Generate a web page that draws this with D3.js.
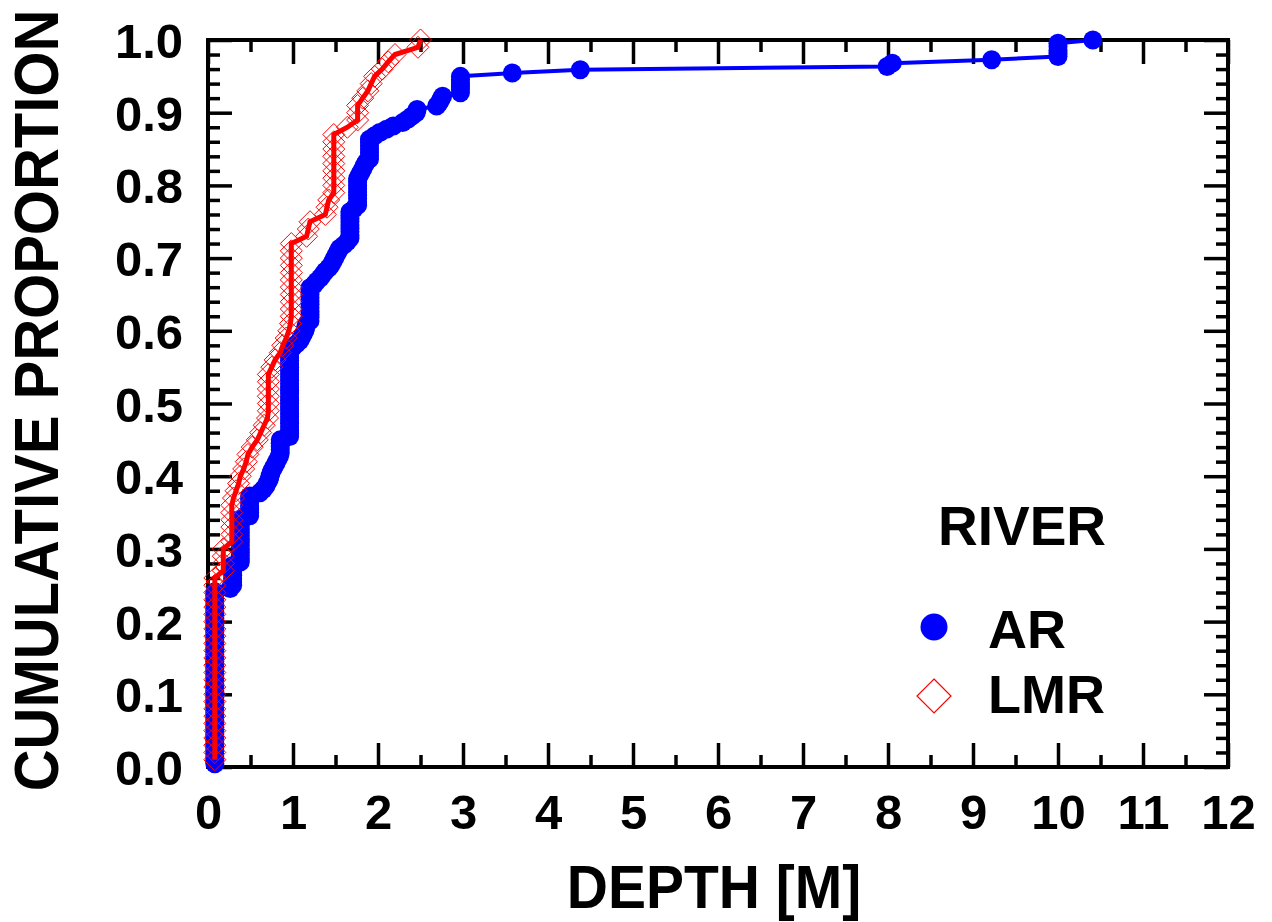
<!DOCTYPE html>
<html>
<head>
<meta charset="utf-8">
<script src="https://cdn.jsdelivr.net/npm/d3@7"></script>
<style>
  html, body { margin: 0; padding: 0; background: #ffffff; }
  svg { display: block; }
  text { font-family: "Liberation Sans", Arial, Helvetica, sans-serif; font-weight: bold; fill: #000; }
</style>
</head>
<body>
<svg id="chart" width="1272" height="922"></svg>
<script>
// ---- Data (depth observations in metres, with how many observations share each depth) ----
const arDepths = [0.08,0.26,0.29,0.38,0.49,0.61,0.65,0.68,0.70,0.72,0.73,0.74,0.76,0.78,0.80,0.82,0.84,0.85,0.96,
  1.00,1.04,1.08,1.10,1.12,1.14,1.15,1.16,1.20,1.25,1.28,1.32,1.35,1.38,1.42,1.45,1.47,1.49,1.51,1.53,1.55,1.60,1.64,
  1.67,1.72,1.76,1.78,1.80,1.82,1.84,1.86,1.90,1.96,2.02,2.10,2.18,2.29,2.35,2.40,2.45,2.46,2.69,2.72,2.74,2.76,2.97,
  3.58,4.38,7.99,8.05,9.22,10.00,10.41];
const arCounts = [53,1,7,14,7,1,1,1,1,1,1,1,1,1,1,1,1,5,27,
  1,1,1,1,1,1,1,1,11,1,1,1,1,1,1,1,1,1,1,1,1,1,1,
  9,1,9,1,1,1,1,1,7,1,1,1,1,1,1,1,1,1,1,1,1,1,6,
  1,1,1,1,1,5,1];

const lmrDepths = [0.08,0.18,0.28,0.30,0.33,0.36,0.38,0.42,0.45,0.47,0.52,0.58,0.62,0.66,0.70,0.71,0.75,0.79,0.85,0.88,
  0.92,0.95,0.97,0.98,1.16,1.18,1.20,1.38,1.40,1.42,1.48,1.64,1.76,1.82,1.88,1.92,1.96,2.05,2.12,2.20,2.47,2.50];
const lmrCounts = [26,4,6,1,1,1,1,1,1,1,1,1,1,1,1,6,1,1,1,1,
  1,1,1,11,1,1,1,1,1,1,9,1,3,1,1,1,1,1,1,1,1,1];

const xTicks = [0,1,2,3,4,5,6,7,8,9,10,11,12];
const xMinorTicks = [0.5,1.5,2.5,3.5,4.5,5.5,6.5,7.5,8.5,9.5,10.5,11.5];
const yTicks = [0,0.1,0.2,0.3,0.4,0.5,0.6,0.7,0.8,0.9,1.0];
const yMinorTicks = d3.range(0, 51).map(i => i / 50).filter((v, i) => i % 5 !== 0);

const seriesNames = ["AR", "LMR"];
const legendTitle = "RIVER";
const xTitle = "DEPTH [M]";
const yTitle = "CUMULATIVE PROPORTION";

// ---- Build empirical cumulative distributions ----
function ecdf(depths, counts) {
  const obs = [];
  depths.forEach((d, i) => { for (let c = 0; c < counts[i]; c++) obs.push(d); });
  const n = obs.length;
  return obs.map((d, i) => ({ depth: d, prop: (i + 1) / n }));
}
const arData = ecdf(arDepths, arCounts);
const lmrData = ecdf(lmrDepths, lmrCounts);

// ---- Layout ----
const svg = d3.select("#chart");
const L = 208, R = 1228, T = 40, B = 767;
const x = d3.scaleLinear().domain([0, 12]).range([L, R]);
const y = d3.scaleLinear().domain([0, 1]).range([B, T]);

const BLUE = "#0000ff", RED = "#ff0000";
const majorLen = 24, minorLen = 12, tickW = 3.5;

function styleAxis(g) {
  g.select(".domain").remove();
  g.selectAll(".tick line").attr("stroke", "#000").attr("stroke-width", tickW);
}

// bottom axis with labels
svg.append("g").attr("transform", `translate(0,${B})`)
  .call(d3.axisBottom(x).tickValues(xTicks).tickSize(-majorLen).tickPadding(0).tickFormat(d3.format("d")))
  .call(styleAxis)
  .call(g => g.selectAll(".tick text").attr("y", 62).attr("dy", null)
    .style("font-size", "49px").style("font-family", "'Liberation Sans', Arial, sans-serif").style("font-weight", "bold"));
svg.append("g").attr("transform", `translate(0,${B})`)
  .call(d3.axisBottom(x).tickValues(xMinorTicks).tickSize(-minorLen).tickFormat(""))
  .call(styleAxis);
// top axis
svg.append("g").attr("transform", `translate(0,${T})`)
  .call(d3.axisTop(x).tickValues(xTicks).tickSize(-majorLen).tickFormat(""))
  .call(styleAxis);
svg.append("g").attr("transform", `translate(0,${T})`)
  .call(d3.axisTop(x).tickValues(xMinorTicks).tickSize(-minorLen).tickFormat(""))
  .call(styleAxis);
// left axis with labels
svg.append("g").attr("transform", `translate(${L},0)`)
  .call(d3.axisLeft(y).tickValues(yTicks).tickSize(-majorLen).tickPadding(0).tickFormat(d3.format(".1f")))
  .call(styleAxis)
  .call(g => g.selectAll(".tick text").attr("x", -25).attr("dy", "17.5px")
    .style("font-size", "49px").style("font-family", "'Liberation Sans', Arial, sans-serif").style("font-weight", "bold"));
svg.append("g").attr("transform", `translate(${L},0)`)
  .call(d3.axisLeft(y).tickValues(yMinorTicks).tickSize(-minorLen).tickFormat(""))
  .call(styleAxis);
// right axis
svg.append("g").attr("transform", `translate(${R},0)`)
  .call(d3.axisRight(y).tickValues(yTicks).tickSize(-majorLen).tickFormat(""))
  .call(styleAxis);
svg.append("g").attr("transform", `translate(${R},0)`)
  .call(d3.axisRight(y).tickValues(yMinorTicks).tickSize(-minorLen).tickFormat(""))
  .call(styleAxis);

// frame
svg.append("rect").attr("x", L).attr("y", T).attr("width", R - L).attr("height", B - T)
  .attr("fill", "none").attr("stroke", "#000").attr("stroke-width", 4);

// axis titles
svg.append("text").attr("transform", `translate(${(L + R) / 2 - 4},908) scale(1,1.07)`).attr("text-anchor", "middle")
  .style("font-size", "57px").text(xTitle);
svg.append("text").attr("transform", `translate(58,${(T + B) / 2 - 3}) rotate(-90) scale(1,1.07)`).attr("text-anchor", "middle")
  .style("font-size", "58px").text(yTitle);

// ---- Series ----
const line = d3.line().x(d => x(d.depth)).y(d => y(d.prop));
const diamond = "M0,-11L11,0L0,11L-11,0Z";

svg.append("path").datum(arData).attr("d", line)
  .attr("fill", "none").attr("stroke", BLUE).attr("stroke-width", 4).attr("stroke-linejoin", "round");
svg.append("g").selectAll("circle").data(arData).join("circle")
  .attr("cx", d => x(d.depth)).attr("cy", d => y(d.prop)).attr("r", 9.5).attr("fill", BLUE);

svg.append("path").datum(lmrData).attr("d", line)
  .attr("fill", "none").attr("stroke", RED).attr("stroke-width", 5).attr("stroke-linejoin", "miter");
svg.append("g").selectAll("path").data(lmrData).join("path")
  .attr("transform", d => `translate(${x(d.depth)},${y(d.prop)})`)
  .attr("d", diamond).attr("fill", "none").attr("stroke", RED).attr("stroke-width", 1);

// ---- Legend ----
const leg = svg.append("g");
leg.append("text").attr("x", 938).attr("y", 545).style("font-size", "55px").text(legendTitle);
leg.append("circle").attr("cx", 934).attr("cy", 627).attr("r", 13.5).attr("fill", BLUE);
leg.append("text").attr("x", 988).attr("y", 648).style("font-size", "54px").text(seriesNames[0]);
leg.append("path").attr("transform", "translate(934,696)").attr("d", "M0,-17L17,0L0,17L-17,0Z")
  .attr("fill", "none").attr("stroke", RED).attr("stroke-width", 1.2);
leg.append("text").attr("x", 988).attr("y", 713).style("font-size", "54px").text(seriesNames[1]);
</script>
</body>
</html>
